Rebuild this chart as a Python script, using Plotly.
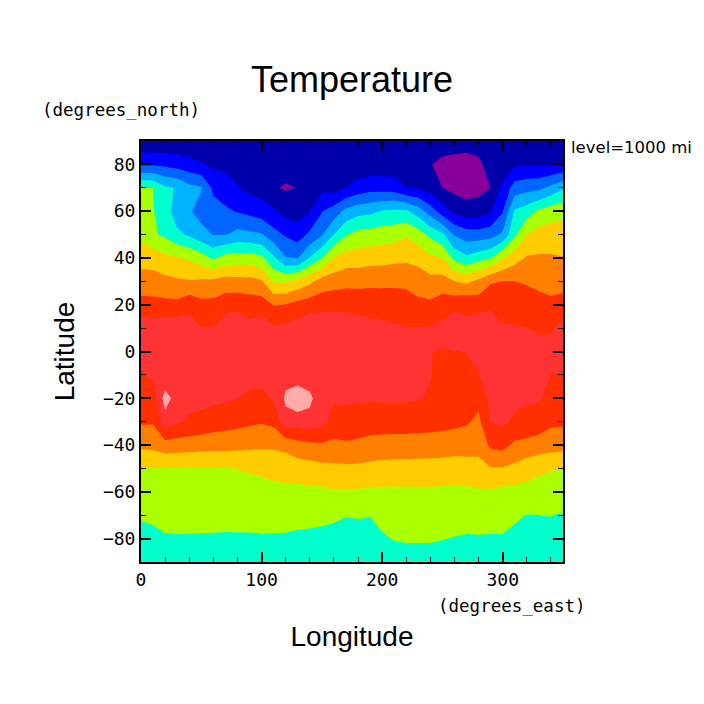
import plotly.graph_objects as go

# longitude / latitude of the grid
lons = list(range(0, 360, 10))
lats = list(range(90, -100, -10))

# temperature, one list per longitude, from lat 90 down to lat -90
temp_by_lon = [
    [251,259.4,275,276.8,278.8,282.9,287.2,291.8,297.7,296.5,294.6,292.8,290.6,286.1,279.9,277.7,275.5,273.5,272],
    [251,259.2,275,275.3,275.8,282.7,287.2,291.5,298,297,295.7,293,290.5,286.4,279.9,278,276,273.7,272],
    [251,258.8,270.8,272.4,274,281.2,286.4,291.4,298.1,297.5,296.5,302,298,288,279.9,278.1,276.3,274.6,272],
    [251,257.9,269.7,267.6,271,280.5,285.7,291.3,298.2,297.5,297.5,298,295.7,287.7,279.6,278,276.3,274.7,272],
    [251,256.8,266.5,265.6,269.3,279.4,285.4,293.4,297.5,297,297.5,296.5,294.3,287.4,279.6,278,276.4,274.6,272],
    [251,255.5,265.4,263,266.8,277.3,285.7,291.5,295.2,296.5,297,296.5,293.5,287.2,279.5,278,276.4,274.6,272],
    [251,253.9,258.9,262,264.8,274.1,286,291.5,295.1,296.5,297,296,292.5,287,279.7,278,276.5,274.5,272],
    [251,254,257.3,260.8,264.8,276.9,287,293,298,297,297.5,295.7,292,286.8,279.8,278.2,276.5,274.4,272],
    [251,253,255.4,259.6,266.6,277.2,286.8,293.4,299.3,297,297,295.1,291.5,286.5,280.1,278.2,276.6,274.4,272],
    [251,252.5,253.6,258.6,266,277.4,286.6,292.6,296.5,297,296.5,294.2,290.9,286.2,280.4,278.4,276.7,274.4,272],
    [251,252.2,253,257.3,265.5,276.1,285.7,292.6,297.9,297,296.2,294,290.4,285.9,280.8,278.6,276.9,274.5,272],
    [251,252,250.5,255.6,261.7,271,279.3,289.8,295.6,297,297,295.3,291.2,286,281.1,279,277,274.4,272],
    [251,252,249.5,253.2,259.4,265.3,279.3,290.1,296.5,297.5,298.5,300.8,298.5,286.6,281.7,279,276.8,274.4,272],
    [251,251.5,250.1,252.5,257.6,264.8,281.4,291.7,297.6,298,296.5,304.2,297,288.3,282.4,278.8,276.5,274.1,272],
    [251,252,251.5,254.8,261,270.4,283.8,292.7,298.9,297.5,297.5,301,298.5,288.9,283,278.9,276.3,274,272],
    [251,253,253.8,259.7,264.5,274.8,287,293.3,299,297,297.3,297,296.4,289.4,283.6,279,275.9,274,272],
    [251,252,253,262.2,270,280.4,287.8,293.5,298.5,296.8,296.8,295.6,293.2,288.9,283.9,279.6,275.5,274,272],
    [251,252,255,266.4,274.6,282.3,288.5,293.4,298,296.7,296.7,295.7,293.3,289.3,284,279.6,275.1,274,272],
    [251,251.8,256.8,268.3,276.5,282.5,288.5,293.2,297.3,296.5,296.5,295.6,292.7,289,284,279.4,275.2,274,272],
    [251,252,258,268.8,277,283,288.8,293,296.6,296.5,296.3,295.5,292.4,288.3,283.7,279.3,275.1,273.5,272],
    [251,252,257.9,270.4,277.5,283.2,288.7,293.1,296,296.5,296.3,295.6,292.4,288,283.3,279.1,276.7,274.3,272],
    [251,252,257.7,270.8,278,283.6,288.9,292.7,295.6,296.5,296.3,295.6,292.3,287.9,283.1,279.1,277.2,275.3,272],
    [251,252.2,255,270.7,279.5,284.1,288.4,293.2,295.1,296.5,296.5,295.6,292.2,288,283,279.2,277.4,275.7,272],
    [251,252,254.5,267.5,277.3,283.4,287.6,291.2,295.2,296.5,296.5,295.3,291.9,288,282.9,279.2,277.4,275.7,272],
    [251,250.1,252.8,262.5,273.8,281.1,286.6,291,295.3,295.05,295.2,294.5,291.7,288,282.8,279.2,277.3,275.7,272],
    [251,249.5,250,257.5,271,280,287.1,292.6,296.2,294.8,293.5,293,291.6,287.6,282.8,279.1,277.3,275.2,272],
    [251,249.2,248.5,253.9,264.4,273.75,285,293.2,299.5,294.9,293.8,293,291.3,287.2,282.6,279,277.2,274.8,272],
    [251,249,248,252,262.4,271,284,294,296,295.1,294,293,290.6,287,283,279,277,274.5,272],
    [251,249.5,248.5,252.2,262.2,273,286.2,292.7,299.2,296,294.8,291.5,288.9,286.5,283.5,279.3,277,274.6,272],
    [251,251,250,254.4,263,274.6,289.5,294,298.3,297,297.5,296.5,295.2,291,284.7,279.4,277,274.5,272],
    [251,252,256.2,259.6,265.9,279.7,290,293.2,295.5,297,297.3,296.5,295.8,291.6,284.7,278.5,277,274.5,272],
    [251,254.2,262.2,270.7,274,283,290,292.6,295.4,297,297,296,294.3,289,283.8,278.6,275.6,274,272],
    [251,254.6,263.2,272.5,280,285.5,289.5,292.4,295,296.5,296.5,295.8,292.9,288.8,281.8,278.6,274.9,273.5,272],
    [251,254.5,263.7,275.8,282.1,285.6,288.8,291.6,294.4,296.5,296.5,295.5,292.7,287.8,281,278,275,273.5,272],
    [251,254.5,266.3,277.5,282.5,285.5,288,291.2,294.5,296.5,295,293.5,291,287.2,280.3,278,275.1,273.5,272],
    [251,255,269.4,278.3,282.3,285.2,287.9,292.2,296.4,296.5,294.7,293.3,291,286.7,280,278,274.6,273.5,272],
]

# one colour per band, coldest first
band_colors = ["#880099", "#0000aa", "#0000ff", "#0066ff", "#00b2ff", "#00ffcc",
               "#aaff00", "#ffcc00", "#ff8000", "#ff2f00", "#ff3333", "#ffaaaa"]

# rows of z are latitudes
z = [list(row) for row in zip(*temp_by_lon)]

# stepped colorscale
n = len(band_colors)
colorscale = []
for i, c in enumerate(band_colors):
    colorscale.append([i / n, c])
    colorscale.append([(i + 1) / n, c])

fig = go.Figure()
fig.add_trace(go.Contour(
    x=lons, y=lats, z=z,
    colorscale=colorscale, zmin=245, zmax=305, showscale=False,
    contours=dict(start=250, end=300, size=5, coloring="fill", showlines=False),
    line=dict(width=0, smoothing=0),
    hoverinfo="skip",
))

FONT = "Liberation Sans"
MONO = "DejaVu Sans Mono"
axis_style = dict(
    showgrid=False, zeroline=False, showline=True, linecolor="black", linewidth=2,
    mirror="allticks", ticks="inside", ticklen=10, tickwidth=2, tickcolor="black",
    tickfont=dict(family=MONO, size=18, color="black"),
)
x_minor = dict(dtick=20, ticks="inside", ticklen=5, tickwidth=1, tickcolor="black")
y_minor = dict(dtick=10, ticks="inside", ticklen=5, tickwidth=1, tickcolor="black")

# the page adds an 8px body margin, so the figure is 696 and the margins are 8 less
fig.update_layout(
    width=696, height=696, autosize=False,
    paper_bgcolor="white", plot_bgcolor="white",
    margin=dict(l=133, r=141, t=133, b=142),
    title=dict(text="Temperature", x=0.5, xref="paper", xanchor="center", y=0.897, yanchor="middle",
               font=dict(family=FONT, size=36, color="black")),
    xaxis=dict(range=[0, 350], tick0=0, dtick=100, minor=x_minor,
               title=dict(text="Longitude", standoff=38, font=dict(family=FONT, size=28, color="black")),
               **axis_style),
    yaxis=dict(range=[-90, 90], tick0=-80, dtick=20, minor=y_minor,
               title=dict(text="Latitude", standoff=20, font=dict(family=FONT, size=28, color="black")),
               **axis_style),
    # label-less copies so the minor ticks also show on the top and right edges
    xaxis2=dict(range=[0, 350], tick0=0, dtick=100, overlaying="x", side="top", anchor="y",
                showgrid=False, zeroline=False, showticklabels=False, ticks="inside",
                ticklen=10, tickwidth=2, tickcolor="black", minor=x_minor),
    yaxis2=dict(range=[-90, 90], tick0=-80, dtick=20, overlaying="y", side="right", anchor="x",
                showgrid=False, zeroline=False, showticklabels=False, ticks="inside",
                ticklen=10, tickwidth=2, tickcolor="black", minor=y_minor),
    annotations=[
        dict(text="(degrees_north)", xref="paper", yref="paper", x=-0.24, y=1.073,
             xanchor="left", yanchor="middle", showarrow=False,
             font=dict(family=MONO, size=17.5, color="black")),
        dict(text="(degrees_east)", xref="paper", yref="paper", x=0.7, y=-0.105,
             xanchor="left", yanchor="middle", showarrow=False,
             font=dict(family=MONO, size=17.5, color="black")),
        dict(text="level=1000 mi", xref="paper", yref="paper", x=1.015, y=0.985,
             xanchor="left", yanchor="middle", showarrow=False,
             font=dict(family="DejaVu Sans", size=16.5, color="black")),
    ],
)

fig.write_html("out.html")
